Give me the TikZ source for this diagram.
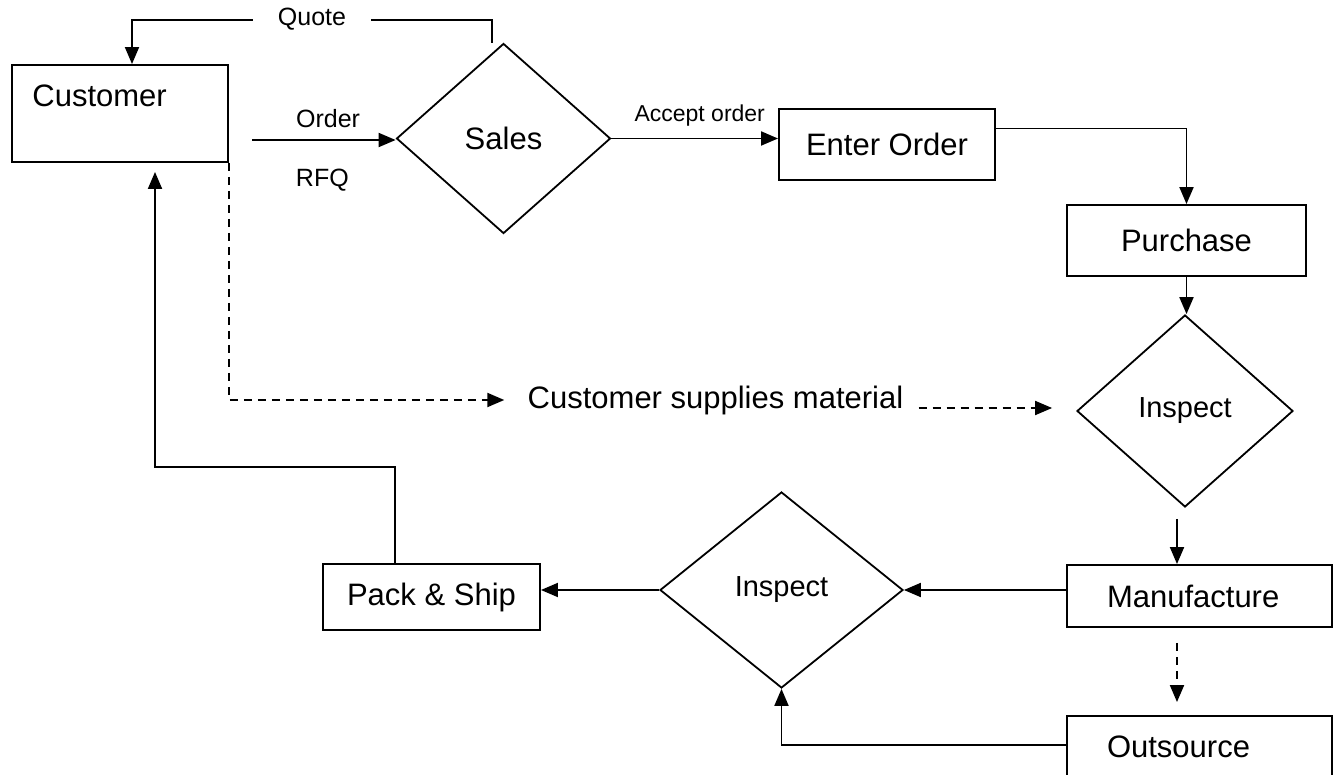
\documentclass[tikz,border=0pt]{standalone}
\usepackage{fontspec}
\setmainfont{Liberation Sans}
\usetikzlibrary{shapes.geometric,arrows.meta}
\tikzset{
  box/.style={draw, line width=0.95pt, inner sep=0pt, font=\fontsize{15.5}{18}\selectfont},
  lbox/.style={box, text width=92.5pt, inner xsep=20pt, align=left},
  decision/.style={draw, diamond, line width=0.9pt, inner sep=0pt, font=\fontsize{15.5}{18}\selectfont},
  txt/.style={inner sep=0pt, font=\fontsize{15.5}{18}\selectfont},
  lbl/.style={inner sep=0pt, font=\fontsize{12.5}{15}\selectfont},
  flow/.style={line width=0.95pt, -{Triangle[length=8.5pt,width=7pt]}},
  gap/.style={dash pattern=on 4pt off 3pt}
}
\begin{document}
\begin{tikzpicture}[x=0.5pt, y=-0.5pt]
  \path[use as bounding box] (0,0) rectangle (1340,775);
  \clip (0,0) rectangle (1340,775);

  % boxes and decisions
  \node[box, minimum width=108pt, minimum height=48.5pt] (cust) at (120,113.5) {};
  \node[txt, anchor=west] (custtxt) at ([xshift=10.5pt,yshift=-16pt]cust.north west) {Customer};
  \node[decision, minimum width=107pt, minimum height=95pt] (sales) at (503.5,138.5) {Sales};
  \node[box, minimum width=108pt, minimum height=35.5pt] (enter) at (887,144.5) {Enter Order};
  \node[box, minimum width=119.5pt, minimum height=35.5pt] (purch) at (1186.5,240.5) {Purchase};
  \node[decision, minimum width=108pt, minimum height=96pt, font=\fontsize{14.5}{17}\selectfont] (insp1) at (1185,411) {Inspect};
  \node[lbox, minimum height=31pt] (manuf) at (1199.5,596) {Manufacture};
  \node[lbox, minimum height=31pt] (outs) at (1199.5,747) {Outsource};
  \node[decision, minimum width=121.5pt, minimum height=98pt, font=\fontsize{14.5}{17}\selectfont] (insp2) at (781.5,590) {Inspect};
  \node[box, minimum width=108.5pt, minimum height=33pt] (pack) at (431.5,597) {Pack \& Ship};
  \node[txt] (supply) at (715.5,400) {Customer supplies material};

  % free ends
  \coordinate (ordin) at (252,140);
  \coordinate (m1) at ([xshift=-4pt,yshift=-5.5pt]insp1.south);
  \coordinate (d1) at ([xshift=-11.25pt,yshift=-7.5pt]manuf.south);
  \coordinate (s1) at ([xshift=-12pt,yshift=1.5pt]insp1.west);

  % connectors
  \draw[flow] ([xshift=-5.75pt]sales.north) -- ++(0,-23) -| node[lbl, fill=white, inner xsep=12.5pt, inner ysep=2pt, pos=.25] {Quote} ([xshift=6pt]cust.north);
  \draw[flow] (ordin) -- node[lbl, pos=.53, yshift=10.5pt] {Order} node[lbl, pos=.49, yshift=-20pt] {RFQ} (ordin -| sales.west);
  \draw[flow] (sales.east) -- node[lbl, pos=.53, yshift=11.5pt, font=\fontsize{11.5}{14}\selectfont] {Accept order} (sales.east -| enter.west);
  \draw[flow] ([yshift=8pt]enter.east) -| (purch.north);
  \draw[flow] (purch.south) -- (purch.south |- insp1.north);
  \draw[flow] (m1) -- (m1 |- manuf.north);
  \draw[flow, gap, shorten >=6.5pt] (d1) -- (d1 |- outs.north);
  \draw[flow] (manuf.west |- insp2.east) -- (insp2.east);
  \draw[flow] ([yshift=1pt]outs.west) -| (insp2.south);
  \draw[flow] (insp2.west) -- (insp2.west -| pack.east);
  \draw[flow] ([xshift=-18.25pt]pack.north) -- ++(0,-96) -| ([xshift=17.5pt,yshift=-4.5pt]cust.south);
  \draw[flow, gap] (cust.south east) |- ([xshift=-11.5pt]supply.west);
  \draw[flow, gap] ([xshift=7.5pt]supply.east |- s1) -- (s1);
\end{tikzpicture}
\end{document}
